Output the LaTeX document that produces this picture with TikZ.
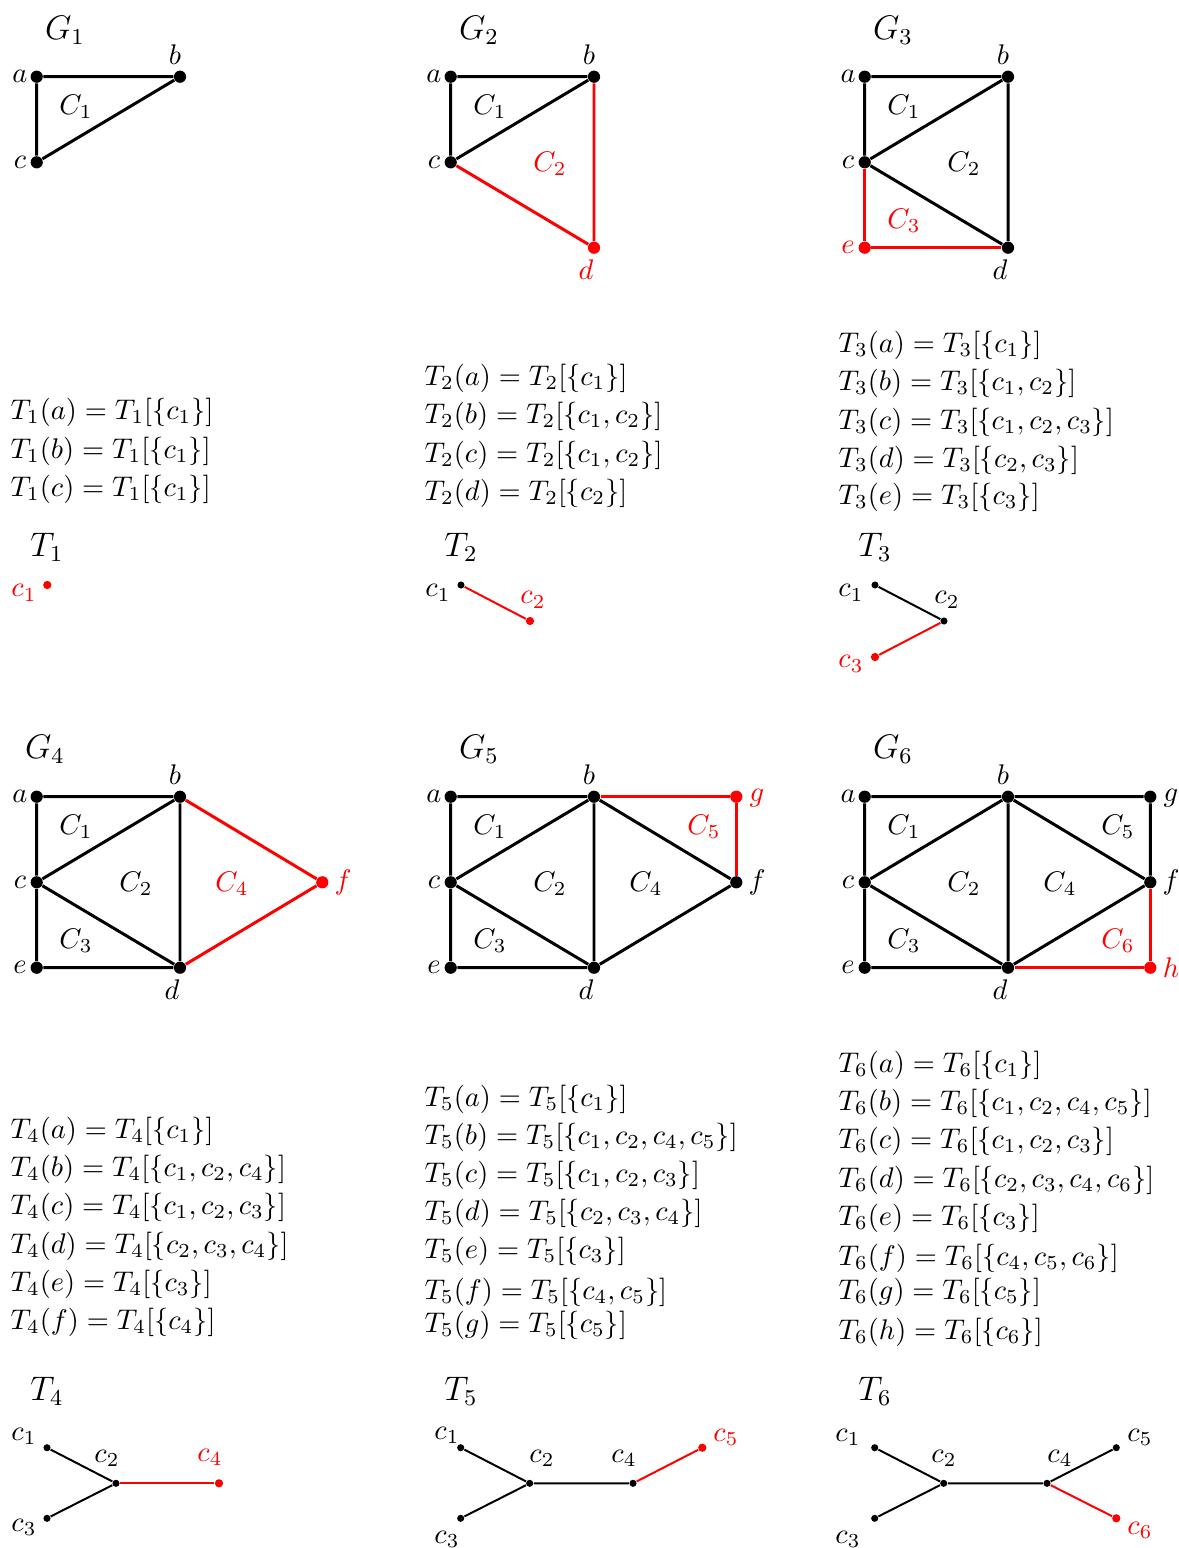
\documentclass[tikz,border=0pt]{standalone}
\begin{document}
\begin{tikzpicture}[x=0.352pt,y=-0.352pt,
  v/.style={circle,fill=black,inner sep=0pt,minimum size=4.3pt},
  rv/.style={circle,fill=red,inner sep=0pt,minimum size=4.3pt},
  tv/.style={circle,fill=black,inner sep=0pt,minimum size=2.5pt},
  trv/.style={circle,fill=red,inner sep=0pt,minimum size=2.9pt},
  ge/.style={line width=1.05pt},
  rge/.style={line width=1.05pt,red},
  te/.style={line width=0.7pt},
  rte/.style={line width=0.7pt,red},
  ttl/.style={font=\large},
  eq/.style={anchor=west,inner sep=0pt},
  lbl/.style={inner sep=0pt},
  rlbl/.style={inner sep=0pt,text=red}]
\useasboundingbox (0,0) rectangle (1179,1548);

% ---------------- Panel 1 ----------------
\node[ttl] (tG1) at (65,30) {$G_1$};
\node[v] (g1a) at (36.7,76.7) {};
\node[v] (g1b) at (180,76.7) {};
\node[v] (g1c) at (36.7,162.3) {};
\draw[ge] (g1a) -- (g1b) (g1a) -- (g1c) (g1c) -- (g1b);
\node[lbl] (g1la) at (20,76) {$a$};
\node[lbl] (g1lb) at (175,55) {$b$};
\node[lbl] (g1lc) at (20,162) {$c$};
\node[lbl] (g1C1) at (76,107) {$C_1$};

\node[eq] (e1a) at (10,412) {$T_1(a)=T_1[\{c_1\}]$};
\node[eq] (e1b) at (10,451) {$T_1(b)=T_1[\{c_1\}]$};
\node[eq] (e1c) at (10,489) {$T_1(c)=T_1[\{c_1\}]$};

\node[ttl] (tT1) at (47,547) {$T_1$};
\node[trv] (t1c1) at (47.3,585) {};
\node[rlbl] (t1l1) at (24,593) {$c_1$};

% ---------------- Panel 2 ----------------
\node[ttl] (tG2) at (479,30) {$G_2$};
\node[v] (g2a) at (450.7,76.7) {};
\node[v] (g2b) at (594,76.7) {};
\node[v] (g2c) at (450.7,162.3) {};
\node[rv] (g2d) at (594,247.7) {};
\draw[ge] (g2a) -- (g2b) (g2a) -- (g2c) (g2c) -- (g2b);
\draw[rge] (g2c) -- (g2d) (g2b) -- (g2d);
\node[lbl] (g2la) at (434,76) {$a$};
\node[lbl] (g2lb) at (589,55) {$b$};
\node[lbl] (g2lc) at (434,162) {$c$};
\node[rlbl] (g2ld) at (586,270) {$d$};
\node[lbl] (g2C1) at (490,107) {$C_1$};
\node[rlbl] (g2C2) at (550,164) {$C_2$};

\node[eq] (e2a) at (424,378) {$T_2(a)=T_2[\{c_1\}]$};
\node[eq] (e2b) at (424,416) {$T_2(b)=T_2[\{c_1,c_2\}]$};
\node[eq] (e2c) at (424,455) {$T_2(c)=T_2[\{c_1,c_2\}]$};
\node[eq] (e2d) at (424,493) {$T_2(d)=T_2[\{c_2\}]$};

\node[ttl] (tT2) at (461,547) {$T_2$};
\node[tv] (t2c1) at (461,585) {};
\node[trv] (t2c2) at (530,621) {};
\draw[rte] (t2c1) -- (t2c2);
\node[lbl] (t2l1) at (438,593) {$c_1$};
\node[rlbl] (t2l2) at (533,600) {$c_2$};

% ---------------- Panel 3 ----------------
\node[ttl] (tG3) at (893,30) {$G_3$};
\node[v] (g3a) at (864.7,76.7) {};
\node[v] (g3b) at (1008,76.7) {};
\node[v] (g3c) at (864.7,162.3) {};
\node[v] (g3d) at (1008,247.7) {};
\node[rv] (g3e) at (864.7,247.7) {};
\draw[ge] (g3a) -- (g3b) (g3a) -- (g3c) (g3c) -- (g3b) (g3b) -- (g3d) (g3c) -- (g3d);
\draw[rge] (g3c) -- (g3e) (g3e) -- (g3d);
\node[lbl] (g3la) at (848,76) {$a$};
\node[lbl] (g3lb) at (1003,55) {$b$};
\node[lbl] (g3lc) at (848,162) {$c$};
\node[lbl] (g3ld) at (1000,270) {$d$};
\node[rlbl] (g3le) at (848,247) {$e$};
\node[lbl] (g3C1) at (904,107) {$C_1$};
\node[lbl] (g3C2) at (964,164) {$C_2$};
\node[rlbl] (g3C3) at (904,221) {$C_3$};

\node[eq] (e3a) at (838,345) {$T_3(a)=T_3[\{c_1\}]$};
\node[eq] (e3b) at (838,383) {$T_3(b)=T_3[\{c_1,c_2\}]$};
\node[eq] (e3c) at (838,422) {$T_3(c)=T_3[\{c_1,c_2,c_3\}]$};
\node[eq] (e3d) at (838,460) {$T_3(d)=T_3[\{c_2,c_3\}]$};
\node[eq] (e3e) at (838,497) {$T_3(e)=T_3[\{c_3\}]$};

\node[ttl] (tT3) at (875,547) {$T_3$};
\node[tv] (t3c1) at (875,585) {};
\node[tv] (t3c2) at (944,621) {};
\node[trv] (t3c3) at (875,657) {};
\draw[te] (t3c1) -- (t3c2);
\draw[rte] (t3c2) -- (t3c3);
\node[lbl] (t3l1) at (851,593) {$c_1$};
\node[lbl] (t3l2) at (947,600) {$c_2$};
\node[rlbl] (t3l3) at (851,664) {$c_3$};

% ---------------- Panel 4 ----------------
\node[ttl] (tG4) at (45,749) {$G_4$};
\node[v] (g4a) at (36.7,796.7) {};
\node[v] (g4b) at (180,796.7) {};
\node[v] (g4c) at (36.7,882.3) {};
\node[v] (g4d) at (180,967.7) {};
\node[v] (g4e) at (36.7,967.7) {};
\node[rv] (g4f) at (322.3,882.3) {};
\draw[ge] (g4a) -- (g4b) (g4a) -- (g4c) (g4c) -- (g4b) (g4b) -- (g4d) (g4c) -- (g4d) (g4c) -- (g4e) (g4e) -- (g4d);
\draw[rge] (g4b) -- (g4f) (g4d) -- (g4f);
\node[lbl] (g4la) at (20,796) {$a$};
\node[lbl] (g4lb) at (175,775) {$b$};
\node[lbl] (g4lc) at (20,882) {$c$};
\node[lbl] (g4ld) at (172,990) {$d$};
\node[lbl] (g4le) at (20,967) {$e$};
\node[rlbl] (g4lf) at (343,882) {$f$};
\node[lbl] (g4C1) at (76,827) {$C_1$};
\node[lbl] (g4C2) at (136,884) {$C_2$};
\node[lbl] (g4C3) at (76,941) {$C_3$};
\node[rlbl] (g4C4) at (232,884) {$C_4$};

\node[eq] (e4a) at (10,1131) {$T_4(a)=T_4[\{c_1\}]$};
\node[eq] (e4b) at (10,1169) {$T_4(b)=T_4[\{c_1,c_2,c_4\}]$};
\node[eq] (e4c) at (10,1207) {$T_4(c)=T_4[\{c_1,c_2,c_3\}]$};
\node[eq] (e4d) at (10,1246) {$T_4(d)=T_4[\{c_2,c_3,c_4\}]$};
\node[eq] (e4e) at (10,1284) {$T_4(e)=T_4[\{c_3\}]$};
\node[eq] (e4f) at (10,1322) {$T_4(f)=T_4[\{c_4\}]$};

\node[ttl] (tT4) at (47,1391) {$T_4$};
\node[tv] (t4c1) at (47,1447.7) {};
\node[tv] (t4c2) at (116,1483.3) {};
\node[tv] (t4c3) at (47,1518.3) {};
\node[trv] (t4c4) at (219,1483.3) {};
\draw[te] (t4c1) -- (t4c2) (t4c3) -- (t4c2);
\draw[rte] (t4c2) -- (t4c4);
\node[lbl] (t4l1) at (24,1436) {$c_1$};
\node[lbl] (t4l2) at (107,1458) {$c_2$};
\node[lbl] (t4l3) at (24,1527) {$c_3$};
\node[rlbl] (t4l4) at (210,1457) {$c_4$};

% ---------------- Panel 5 ----------------
\node[ttl] (tG5) at (479,749) {$G_5$};
\node[v] (g5a) at (450.7,796.7) {};
\node[v] (g5b) at (594,796.7) {};
\node[v] (g5c) at (450.7,882.3) {};
\node[v] (g5d) at (594,967.7) {};
\node[v] (g5e) at (450.7,967.7) {};
\node[v] (g5f) at (736.3,882.3) {};
\node[rv] (g5g) at (736.3,796.7) {};
\draw[ge] (g5a) -- (g5b) (g5a) -- (g5c) (g5c) -- (g5b) (g5b) -- (g5d) (g5c) -- (g5d) (g5c) -- (g5e) (g5e) -- (g5d) (g5b) -- (g5f) (g5d) -- (g5f);
\draw[rge] (g5b) -- (g5g) (g5g) -- (g5f);
\node[lbl] (g5la) at (434,796) {$a$};
\node[lbl] (g5lb) at (589,775) {$b$};
\node[lbl] (g5lc) at (434,882) {$c$};
\node[lbl] (g5ld) at (586,990) {$d$};
\node[lbl] (g5le) at (434,967) {$e$};
\node[lbl] (g5lf) at (757,882) {$f$};
\node[rlbl] (g5lg) at (757,798) {$g$};
\node[lbl] (g5C1) at (490,827) {$C_1$};
\node[lbl] (g5C2) at (550,884) {$C_2$};
\node[lbl] (g5C3) at (490,941) {$C_3$};
\node[lbl] (g5C4) at (646,884) {$C_4$};
\node[rlbl] (g5C5) at (704,827) {$C_5$};

\node[eq] (e5a) at (424,1099) {$T_5(a)=T_5[\{c_1\}]$};
\node[eq] (e5b) at (424,1137) {$T_5(b)=T_5[\{c_1,c_2,c_4,c_5\}]$};
\node[eq] (e5c) at (424,1175) {$T_5(c)=T_5[\{c_1,c_2,c_3\}]$};
\node[eq] (e5d) at (424,1213) {$T_5(d)=T_5[\{c_2,c_3,c_4\}]$};
\node[eq] (e5e) at (424,1251) {$T_5(e)=T_5[\{c_3\}]$};
\node[eq] (e5f) at (424,1292) {$T_5(f)=T_5[\{c_4,c_5\}]$};
\node[eq] (e5g) at (424,1325) {$T_5(g)=T_5[\{c_5\}]$};

\node[ttl] (tT5) at (461,1391) {$T_5$};
\node[tv] (t5c1) at (460.7,1447.7) {};
\node[tv] (t5c2) at (529.7,1483.3) {};
\node[tv] (t5c3) at (460.7,1518.3) {};
\node[tv] (t5c4) at (633,1483.3) {};
\node[trv] (t5c5) at (702.3,1447.7) {};
\draw[te] (t5c1) -- (t5c2) (t5c3) -- (t5c2) (t5c2) -- (t5c4);
\draw[rte] (t5c4) -- (t5c5);
\node[lbl] (t5l1) at (447,1435) {$c_1$};
\node[lbl] (t5l2) at (542,1458) {$c_2$};
\node[lbl] (t5l3) at (447,1539) {$c_3$};
\node[lbl] (t5l4) at (624,1458) {$c_4$};
\node[rlbl] (t5l5) at (726,1437) {$c_5$};

% ---------------- Panel 6 ----------------
\node[ttl] (tG6) at (893,749) {$G_6$};
\node[v] (g6a) at (864.7,796.7) {};
\node[v] (g6b) at (1008,796.7) {};
\node[v] (g6c) at (864.7,882.3) {};
\node[v] (g6d) at (1008,967.7) {};
\node[v] (g6e) at (864.7,967.7) {};
\node[v] (g6f) at (1150.3,882.3) {};
\node[v] (g6g) at (1150.3,796.7) {};
\node[rv] (g6h) at (1150.3,967.7) {};
\draw[ge] (g6a) -- (g6b) (g6a) -- (g6c) (g6c) -- (g6b) (g6b) -- (g6d) (g6c) -- (g6d) (g6c) -- (g6e) (g6e) -- (g6d) (g6b) -- (g6f) (g6d) -- (g6f) (g6b) -- (g6g) (g6g) -- (g6f);
\draw[rge] (g6d) -- (g6h) (g6h) -- (g6f);
\node[lbl] (g6la) at (848,796) {$a$};
\node[lbl] (g6lb) at (1003,775) {$b$};
\node[lbl] (g6lc) at (848,882) {$c$};
\node[lbl] (g6ld) at (1000,990) {$d$};
\node[lbl] (g6le) at (848,967) {$e$};
\node[lbl] (g6lf) at (1171,882) {$f$};
\node[lbl] (g6lg) at (1171,798) {$g$};
\node[rlbl] (g6lh) at (1171,968) {$h$};
\node[lbl] (g6C1) at (904,827) {$C_1$};
\node[lbl] (g6C2) at (964,884) {$C_2$};
\node[lbl] (g6C3) at (904,941) {$C_3$};
\node[lbl] (g6C4) at (1060,884) {$C_4$};
\node[lbl] (g6C5) at (1118,827) {$C_5$};
\node[rlbl] (g6C6) at (1118,941) {$C_6$};

\node[eq] (e6a) at (838,1065) {$T_6(a)=T_6[\{c_1\}]$};
\node[eq] (e6b) at (838,1103) {$T_6(b)=T_6[\{c_1,c_2,c_4,c_5\}]$};
\node[eq] (e6c) at (838,1141) {$T_6(c)=T_6[\{c_1,c_2,c_3\}]$};
\node[eq] (e6d) at (838,1180) {$T_6(d)=T_6[\{c_2,c_3,c_4,c_6\}]$};
\node[eq] (e6e) at (838,1218) {$T_6(e)=T_6[\{c_3\}]$};
\node[eq] (e6f) at (838,1258) {$T_6(f)=T_6[\{c_4,c_5,c_6\}]$};
\node[eq] (e6g) at (838,1292) {$T_6(g)=T_6[\{c_5\}]$};
\node[eq] (e6h) at (838,1332) {$T_6(h)=T_6[\{c_6\}]$};

\node[ttl] (tT6) at (875,1391) {$T_6$};
\node[tv] (t6c1) at (874.7,1447.7) {};
\node[tv] (t6c2) at (943.7,1483.3) {};
\node[tv] (t6c3) at (874.7,1518.3) {};
\node[tv] (t6c4) at (1047,1483.3) {};
\node[tv] (t6c5) at (1116.3,1447.7) {};
\node[trv] (t6c6) at (1116.3,1518.3) {};
\draw[te] (t6c1) -- (t6c2) (t6c3) -- (t6c2) (t6c2) -- (t6c4) (t6c4) -- (t6c5);
\draw[rte] (t6c4) -- (t6c6);
\node[lbl] (t6l1) at (848,1437) {$c_1$};
\node[lbl] (t6l2) at (944,1458) {$c_2$};
\node[lbl] (t6l3) at (848,1539) {$c_3$};
\node[lbl] (t6l4) at (1060,1458) {$c_4$};
\node[lbl] (t6l5) at (1140,1437) {$c_5$};
\node[rlbl] (t6l6) at (1140,1530) {$c_6$};
\end{tikzpicture}
\end{document}
